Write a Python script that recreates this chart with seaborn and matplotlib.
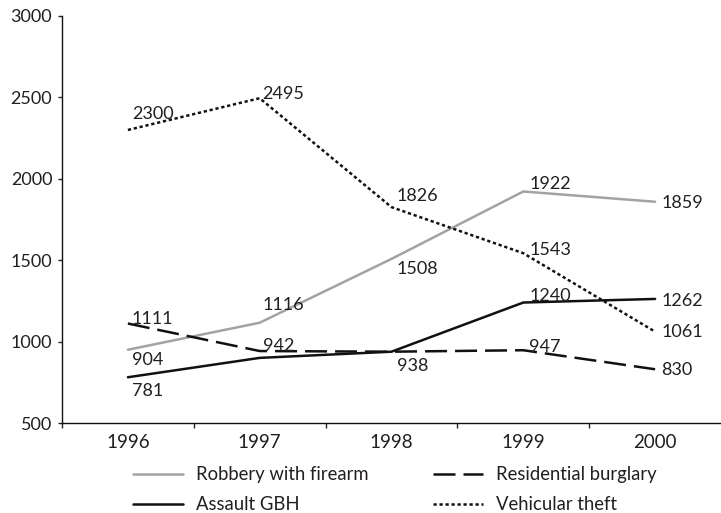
import numpy as np
import pandas as pd
import matplotlib
matplotlib.use("Agg")
import matplotlib.pyplot as plt
import seaborn as sns

sns.set_style("ticks")
plt.rcParams['font.family'] = ['Lato', 'DejaVu Sans']

# data
years = [1996, 1997, 1998, 1999, 2000]
series_names = ["Robbery with firearm", "Assault GBH", "Residential burglary", "Vehicular theft"]
robbery = [950, 1116, 1508, 1922, 1859]
assault = [781, 900, 938, 1240, 1262]
residential = [1111, 942, 938, 947, 830]
vehicular = [2300, 2495, 1826, 1543, 1061]
# printed data labels (None = not shown)
robbery_lbl = ["904", "1116", "1508", "1922", "1859"]
assault_lbl = ["781", None, "938", "1240", "1262"]
residential_lbl = ["1111", "942", None, "947", "830"]
vehicular_lbl = ["2300", "2495", "1826", "1543", "1061"]

values = [robbery, assault, residential, vehicular]
labels = [robbery_lbl, assault_lbl, residential_lbl, vehicular_lbl]

# label placement (pixels: dx right, dy baseline below point)
lbl_dx = [4, 3, 5, 6, 6]
lbl_dy = [
    [15.0, -12.7, 15.3, -2.3, 6.7],
    [18.7, 0, 19.3, -1.1, 7.4],
    [0.5, 0.0, 0, 1.3, 6.1],
    [-10.8, 1.0, -5.7, 1.8, 5.0],
]

df = pd.DataFrame({
    "year": years * 4,
    "value": robbery + assault + residential + vehicular,
    "series": np.repeat(series_names, len(years)),
})

palette = {"Robbery with firearm": "#a3a3a3", "Assault GBH": "#111111",
           "Residential burglary": "#111111", "Vehicular theft": "#111111"}
dashes = {"Robbery with firearm": "", "Assault GBH": "",
          "Residential burglary": (8.8, 3.2), "Vehicular theft": (1.3, 1.1)}

W, H = 721, 513
fig = plt.figure(figsize=(W / 100, H / 100), dpi=100)
ax = fig.add_axes([62 / W, 1 - 423 / H, (W - 62) / W, (423 - 16) / H])

sns.lineplot(data=df, x="year", y="value", hue="series", style="series",
             hue_order=series_names, style_order=series_names,
             palette=palette, dashes=dashes, linewidth=1.8, legend=False, ax=ax)

txt_color = "#231f20"
px = 0.72
for s in range(4):
    for i, yr in enumerate(years):
        if labels[s][i] is None:
            continue
        ax.annotate(labels[s][i], (yr, values[s][i]),
                    xytext=(lbl_dx[i] * px, -lbl_dy[s][i] * px),
                    textcoords="offset points", ha="left", va="baseline",
                    fontsize=13, color=txt_color)

ax.set_xlim(1995.5, 2000.5)
ax.set_ylim(500, 3000)
ax.set_yticks(range(500, 3001, 500))
ax.set_xticks(years)
ax.set_xticks([1995.5, 1996.5, 1997.5, 1998.5, 1999.5], minor=True)
ax.tick_params(axis="x", which="major", length=0, pad=8, labelsize=13.5, labelcolor=txt_color)
ax.tick_params(axis="x", which="minor", length=3.6, width=1, direction="out")
ax.tick_params(axis="y", length=3, width=1, pad=4, labelsize=13, labelcolor=txt_color)
ax.set_xlabel("")
ax.set_ylabel("")
sns.despine(ax=ax)
for sp in ["left", "bottom"]:
    ax.spines[sp].set_linewidth(1.0)
    ax.spines[sp].set_color("#111111")

# legend: size the font so the text widths match the original (narrow face there)
r = fig.canvas.get_renderer()
probe = fig.text(0, 0, "Residential burglary", size=16)
leg_fs = 16 * 162 / probe.get_window_extent(r).width
probe.remove()
probe = fig.text(0, 0, "Assault GBH", size=leg_fs)
row_h = probe.get_window_extent(r).height
probe.remove()
fs_px = leg_fs / 0.72

lines = ax.get_lines()
leg_kw = dict(loc="upper left", frameon=False, fontsize=leg_fs,
              handlelength=50.6 / fs_px, handletextpad=13 / fs_px,
              labelspacing=(30 - row_h) / fs_px, borderpad=0, borderaxespad=0,
              labelcolor=txt_color)
legs = []
for col, x_px in [(0, 132.7), (1, 432.7)]:
    idx = [2 * col, 2 * col + 1]
    leg = fig.legend([lines[k] for k in idx], [series_names[k] for k in idx],
                     bbox_to_anchor=(x_px / W, 1 - 460 / H), **leg_kw)
    legs.append((leg, x_px))

fig.canvas.draw()
for leg, x_px in legs:
    hl = leg.get_lines()[0].get_window_extent(r)
    cy = (hl.y0 + hl.y1) / 2
    shift = (H - 474) - cy
    leg.set_bbox_to_anchor((x_px / W, 1 - 460 / H + shift / H))

fig.savefig("out.png", dpi=100)
